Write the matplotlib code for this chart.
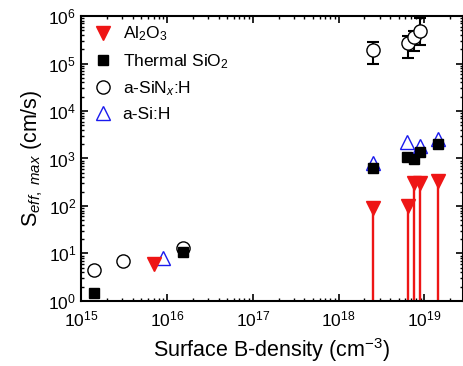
import matplotlib
matplotlib.use("Agg")
import matplotlib.pyplot as plt
import numpy as np
from matplotlib.ticker import LogLocator, NullFormatter

plt.rcParams['font.family'] = ['Liberation Sans', 'DejaVu Sans']
plt.rcParams['mathtext.fontset'] = 'custom'
plt.rcParams['mathtext.rm'] = 'Liberation Sans'
plt.rcParams['mathtext.it'] = 'Liberation Sans:italic'

# Al2O3
al_x = [7.1e15, 2.5e18, 6.5e18, 7.6e18, 8.9e18, 1.45e19]
al_y = [5.9, 89, 102, 300, 300, 330]
al_low = [None, 1.0, 1.0, 1.0, 1.0, 1.0]  # lower end of stem

# Thermal SiO2
sio_x = [1.4e15, 1.55e16, 2.5e18, 6.3e18, 7.6e18, 8.9e18, 1.45e19]
sio_y = [1.45, 10.7, 640, 1050, 960, 1400, 2000]

# a-SiNx:H
sin_x = [1.4e15, 3.1e15, 1.55e16, 2.5e18, 6.5e18, 7.6e18, 8.9e18]
sin_y = [4.5, 6.9, 13, 1.9e5, 2.7e5, 3.6e5, 4.8e5]
sin_lo = [None, None, None, 0.98e5, 1.3e5, 1.8e5, 2.5e5]
sin_hi = [None, None, None, 2.8e5, 3.8e5, 4.8e5, 9.0e5]

# a-Si:H
asi_x = [9.0e15, 2.5e18, 6.3e18, 8.9e18, 1.45e19]
asi_y = [7.9, 810, 2200, 1860, 2600]

fig = plt.figure(figsize=(4.64, 3.66), dpi=100)
ax = fig.add_axes([0.1746, 0.178, 0.823, 0.778])

# stems for Al2O3
for x, y, lo in zip(al_x, al_y, al_low):
    if lo is not None:
        ax.plot([x, x], [lo, y], color='#ee1515', lw=1.7, zorder=2)

# error bars for SiNx
for x, y, lo, hi in zip(sin_x, sin_y, sin_lo, sin_hi):
    if lo is not None:
        ax.errorbar([x], [y], yerr=[[y - lo], [hi - y]], fmt='none',
                    ecolor='black', elinewidth=1.5, capsize=4, capthick=1.5, zorder=2)

ax.plot(sin_x, sin_y, 'o', ms=9.5, mfc='white', mec='black', mew=1.0,
        ls='none', label='a-SiN$_x$:H', zorder=3)
ax.plot(asi_x, asi_y, '^', ms=10, mfc='none', mec='#1a1aee', mew=1.0,
        ls='none', label='a-Si:H', zorder=4)
ax.plot(sio_x, sio_y, 's', ms=7.5, mfc='black', mec='black',
        ls='none', label='Thermal SiO$_2$', zorder=5)
ax.plot(al_x, al_y, 'v', ms=10, mfc='#ee1515', mec='#ee1515',
        ls='none', label='Al$_2$O$_3$', zorder=6)

ax.set_xscale('log')
ax.set_yscale('log')
ax.set_xlim(1e15, 2.8e19)
ax.set_ylim(1, 1e6)

ax.xaxis.set_major_locator(LogLocator(base=10, numticks=10))
ax.xaxis.set_minor_locator(LogLocator(base=10, subs=np.arange(2, 10), numticks=20))
ax.xaxis.set_minor_formatter(NullFormatter())
ax.yaxis.set_major_locator(LogLocator(base=10, numticks=10))
ax.yaxis.set_minor_locator(LogLocator(base=10, subs=np.arange(2, 10), numticks=20))
ax.yaxis.set_minor_formatter(NullFormatter())

ax.tick_params(which='both', direction='in', top=True, right=True, labelsize=12.5)
ax.tick_params(axis='x', which='major', pad=6)
ax.tick_params(which='major', length=5, width=1.2)
ax.tick_params(which='minor', length=2.5, width=1.0)
for s in ax.spines.values():
    s.set_linewidth(1.5)

ax.set_xlabel('Surface B-density (cm$^{-3}$)', fontsize=15.5, labelpad=5)
ax.set_ylabel('S$_{\\mathit{eff,\\ max}}$ (cm/s)', fontsize=15.5, labelpad=2)

handles, labels = ax.get_legend_handles_labels()
order = [3, 2, 0, 1]
ax.legend([handles[i] for i in order], [labels[i] for i in order],
          loc='upper left', frameon=False, fontsize=12.5, handletextpad=0.4,
          labelspacing=0.5, borderaxespad=0.1, handlelength=1.5)

fig.savefig('out.png', dpi=100)
